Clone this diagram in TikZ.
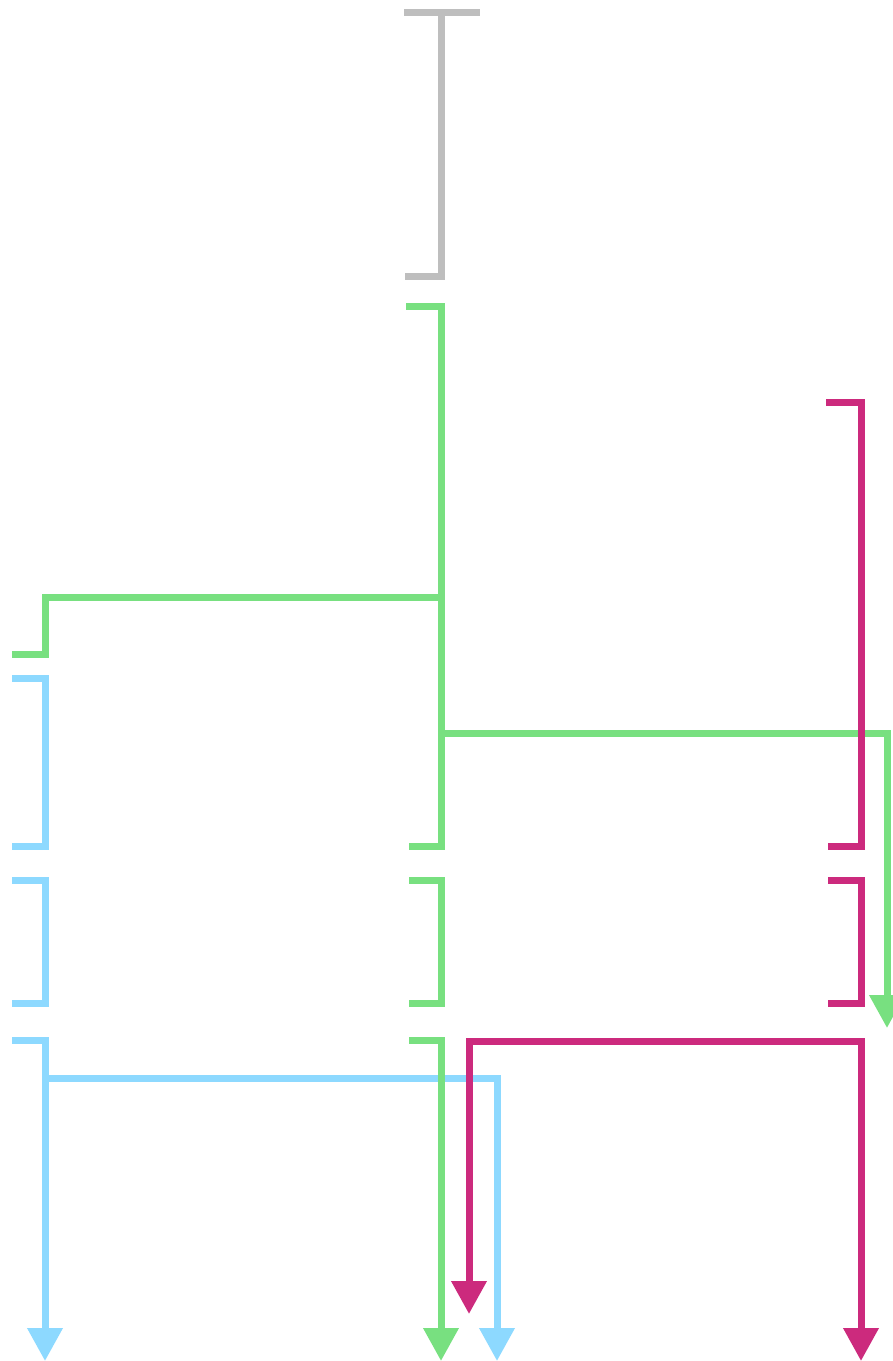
\documentclass[tikz,border=0pt]{standalone}
\usetikzlibrary{arrows.meta}
\definecolor{railgray}{RGB}{190,190,190}
\definecolor{railgreen}{RGB}{120,224,128}
\definecolor{railblue}{RGB}{141,217,255}
\definecolor{railpink}{RGB}{204,42,125}
\tikzset{
  rail/.style={line width=7pt, line join=miter},
  railarrow/.style={rail, -{Triangle[length=33pt, width=34pt]}},
  railsplit/.style={rail, {Triangle[length=33pt, width=34pt]}-{Triangle[length=33pt, width=34pt]}},
}
\begin{document}
\begin{tikzpicture}[x=1pt, y=-1pt]
    \useasboundingbox (0,0) rectangle (893,1361);
    % blue lane
    \draw[rail, railblue] (12,678) -- (45,678) -- (45,846) -- (12,846);
    \draw[rail, railblue] (12,880) -- (45,880) -- (45,1003) -- (12,1003);
    \draw[railarrow, railblue] (12,1040) -- (45,1040) -- (45,1361);
    \draw[railarrow, railblue] (45,1078) -- (497,1078) -- (497,1361);
    % gray lane
    \draw[rail, railgray] (404,12) -- (480,12);
    \draw[rail, railgray] (441,12) -- (441,276) -- (405,276);
    % green lane
    \draw[rail, railgreen] (406,306) -- (441,306) -- (441,846) -- (409,846);
    \draw[rail, railgreen] (441,597) -- (45,597) -- (45,654) -- (12,654);
    \draw[railarrow, railgreen] (441,733) -- (887,733) -- (887,1028);
    \draw[rail, railgreen] (409,880) -- (441,880) -- (441,1003) -- (409,1003);
    \draw[railarrow, railgreen] (409,1040) -- (441,1040) -- (441,1361);
    % pink lane
    \draw[rail, railpink] (826,402) -- (861,402) -- (861,846) -- (828,846);
    \draw[rail, railpink] (828,880) -- (861,880) -- (861,1003) -- (828,1003);
    \draw[railsplit, railpink] (469,1314) -- (469,1041) -- (861,1041) -- (861,1361);
\end{tikzpicture}
\end{document}
